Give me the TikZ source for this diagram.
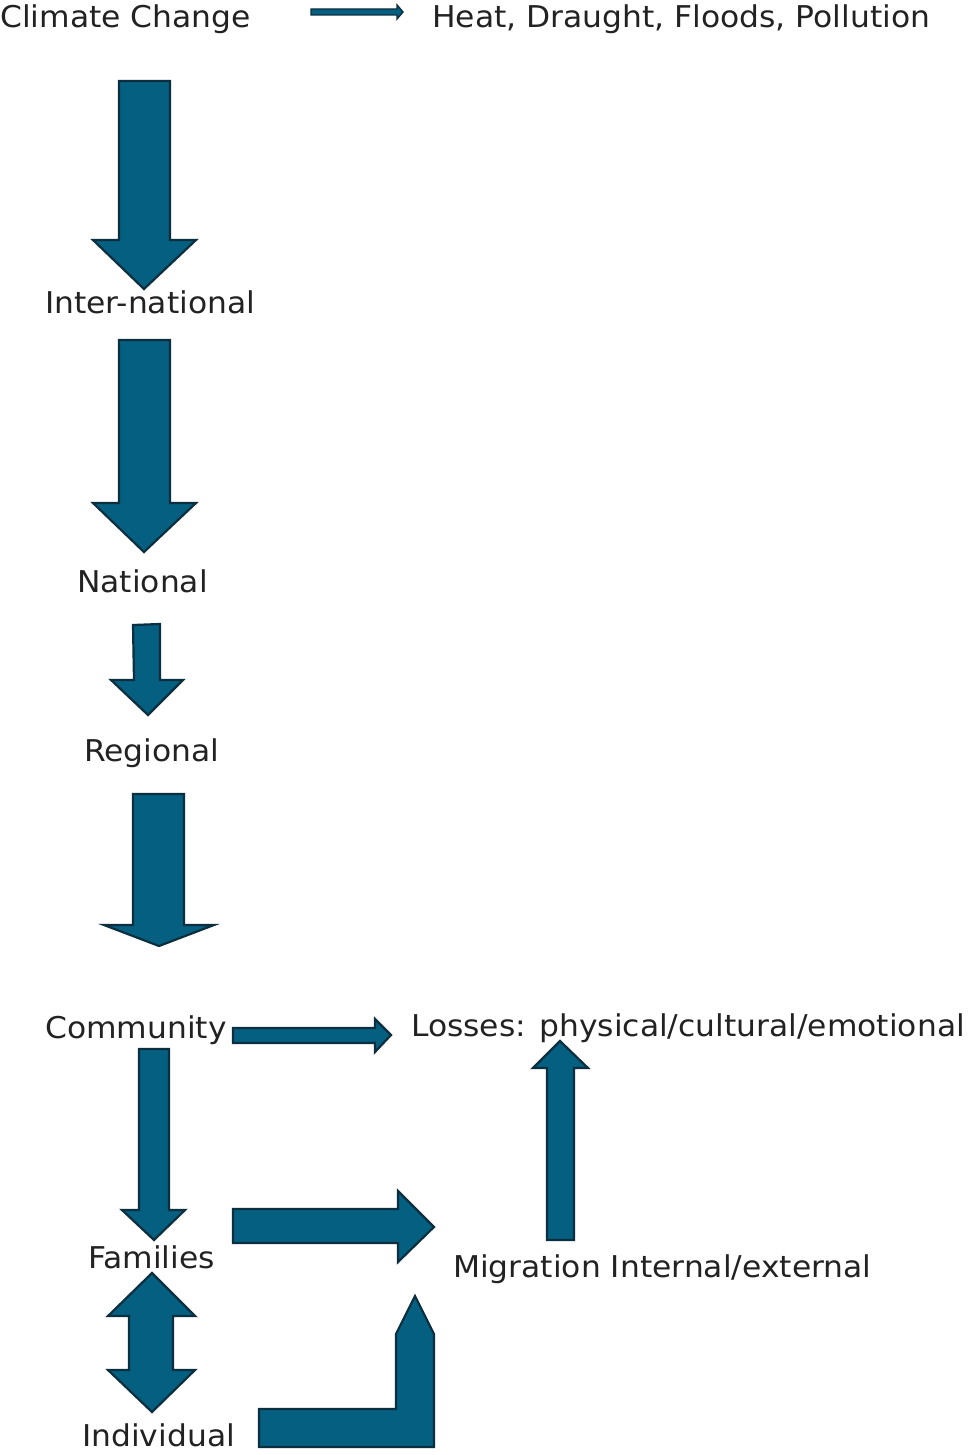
\documentclass[tikz,border=0pt]{standalone}
\usepackage{fontspec}
\setmainfont[FakeStretch=1.045]{DejaVu Sans}
\definecolor{arrowfill}{HTML}{045F80}
\definecolor{arrowline}{HTML}{0C2F3F}
\definecolor{txt}{HTML}{222222}
\begin{document}
\begin{tikzpicture}[x=1pt,y=-1pt,
  blockarrow/.style={fill=arrowfill,draw=arrowline,line width=2.2pt,line join=miter},
  lbl/.style={anchor=base west,inner sep=0pt,text=txt,font=\fontsize{30}{36}\selectfont}]
\useasboundingbox (0,0) rectangle (969,1455);
% labels
\node[lbl] (cc) at (0,28) {Climate Change};
\node[lbl] (heat) at (432,28) {Heat, Draught, Floods, Pollution};
\node[lbl] (inter) at (45,313) {Inter-national};
\node[lbl] (nat) at (77,592) {National};
\node[lbl] (reg) at (84,761) {Regional};
\node[lbl] (com) at (45,1038) {Community};
\node[lbl] (loss) at (411,1036) {Losses: physical/cultural/emotional};
\node[lbl] (fam) at (88,1268) {Families};
\node[lbl] (mig) at (453,1277) {Migration Internal/external};
\node[lbl] (ind) at (82,1446) {Individual};
% arrows
\draw[blockarrow,line width=1.4pt] (311,9)--(397,9)--(397,5)--(403,12)--(397,19)--(397,15)--(311,15)--cycle;
\draw[blockarrow] (119,81)--(170,81)--(170,240)--(196,240)--(144,289)--(93,240)--(119,240)--cycle;
\draw[blockarrow] (119,340)--(170,340)--(170,503)--(196,503)--(144,552)--(93,503)--(119,503)--cycle;
\draw[blockarrow] (133,625)--(160,624)--(160,680)--(183,680)--(148,715)--(111,680)--(134,680)--cycle;
\draw[blockarrow] (133,794)--(184,794)--(184,925)--(214,925)--(159,946)--(104,925)--(133,925)--cycle;
\draw[blockarrow] (233,1028)--(375,1028)--(375,1019)--(391,1035)--(375,1052)--(375,1043)--(233,1043)--cycle;
\draw[blockarrow] (139,1049)--(169,1049)--(169,1210)--(185,1210)--(154,1240)--(122,1210)--(139,1210)--cycle;
\draw[blockarrow] (233,1209)--(398,1209)--(398,1191)--(434,1227)--(398,1262)--(398,1243)--(233,1243)--cycle;
\draw[blockarrow] (547,1240)--(547,1068)--(533,1068)--(560,1041)--(588,1068)--(574,1068)--(574,1240)--cycle;
\draw[blockarrow] (152,1273)--(195,1316)--(173,1316)--(173,1370)--(195,1370)--(152,1412)--(108,1370)--(129,1370)--(129,1316)--(108,1316)--cycle;
\draw[blockarrow] (259,1409)--(396,1409)--(396,1334)--(415,1296)--(434,1334)--(434,1447)--(259,1447)--cycle;
\end{tikzpicture}
\end{document}
